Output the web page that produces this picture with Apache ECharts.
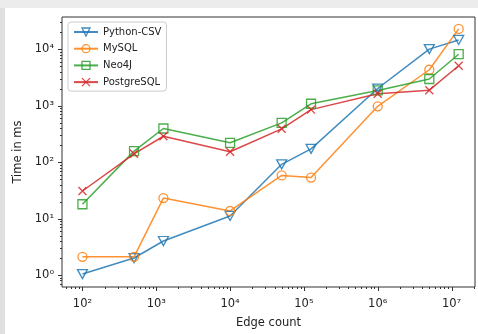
<!DOCTYPE html>
<html><head><meta charset="utf-8">
<script src="https://cdn.jsdelivr.net/npm/echarts@6/dist/echarts.min.js"></script>
<style>
html,body{margin:0;padding:0;background:#e0e0e0;}
#wrap{position:relative;width:478px;height:334px;background:#e0e0e0;overflow:hidden;}
#top{position:absolute;left:0;top:0;width:478px;height:8px;background:#ececec;}
#paper{position:absolute;left:5px;top:8px;width:473px;height:326px;background:#fff;}
#chart{position:absolute;left:0;top:0;width:478px;height:334px;}
</style></head><body>
<div id="wrap"><div id="top"></div><div id="paper"></div><div id="chart"></div></div>
<script>
const edgeCounts = [100, 500, 1250, 10000, 50000, 125000, 1000000, 5000000, 12500000];
const pythonCsv  = [1.04, 2.0, 4.0, 11.1, 91, 171, 2000, 9960, 14500];
const mySql      = [2.1, 2.1, 23, 13.6, 58, 53, 968, 4300, 22700];
const neo4j      = [17.9, 156, 392, 219, 493, 1075, 1850, 2950, 8100];
const postgreSql = [30.7, 140, 286, 152, 387, 846, 1620, 1870, 5050];
const seriesNames = ['Python-CSV', 'MySQL', 'Neo4J', 'PostgreSQL'];
const xTickExps = [2, 3, 4, 5, 6, 7];
const yTickExps = [0, 1, 2, 3, 4];

const xMin = Math.pow(10, 1.723), xMax = Math.pow(10, 7.318);
const yMin = Math.pow(10, -0.212), yMax = Math.pow(10, 4.567);
const SUP = '⁰¹²³⁴⁵⁶⁷⁸⁹';
function supFmt(v) {
  const e = Math.log10(v), r = Math.round(e);
  if (Math.abs(e - r) > 1e-3) return '';
  return '10' + String(r).split('').map(d => d === '-' ? '⁻' : SUP[+d]).join('');
}
function pairs(ys) { return edgeCounts.map((x, i) => [x, ys[i]]); }

const colors = ['#1f77b4', '#ff7f0e', '#2ca02c', '#d62728'];
const symbols = ['path://M0,0L10,0L5,8.66Z', 'circle', 'rect', 'path://M0,0L10,10M0,10L10,0'];
const sizes = [[10, 9], 9, 9, 8];
const values = [pythonCsv, mySql, neo4j, postgreSql];
const font = 'DejaVu Sans';
const hollow = 'rgba(255,255,255,0)';

const chart = echarts.init(document.getElementById('chart'), null, {renderer: 'canvas'});
const option = {
  animation: false,
  backgroundColor: 'transparent',
  grid: {left: 62, top: 17, right: 2, bottom: 46, show: true, borderColor: '#333', borderWidth: 1, backgroundColor: 'transparent'},
  legend: {
    orient: 'vertical', left: 68, top: 22, padding: [5, 5, 4, 5], itemGap: 6.7,
    itemWidth: 24, itemHeight: 10,
    textStyle: {fontFamily: font, fontSize: 10, color: '#222'},
    borderColor: '#cccccc', borderWidth: 1, borderRadius: 3,
    backgroundColor: 'rgba(255,255,255,0.8)',
    data: seriesNames.map((n, i) => ({name: n, itemStyle: {color: hollow, borderColor: colors[i], borderWidth: 1.3}}))
  },
  xAxis: {
    type: 'log', logBase: 10, min: xMin, max: xMax, splitNumber: 6,
    name: 'Edge count', nameLocation: 'middle', nameGap: 30,
    nameTextStyle: {fontFamily: font, fontSize: 11.5, color: '#222'},
    axisLine: {show: false}, axisTick: {show: false}, splitLine: {show: false},
    axisLabel: {fontFamily: font, fontSize: 11.5, color: '#222', margin: 11, formatter: supFmt}
  },
  yAxis: {
    type: 'log', logBase: 10, min: yMin, max: yMax, splitNumber: 5,
    name: 'Time in ms', nameLocation: 'middle', nameGap: 38,
    nameTextStyle: {fontFamily: font, fontSize: 11.5, color: '#222'},
    axisLine: {show: false}, axisTick: {show: false}, splitLine: {show: false},
    axisLabel: {fontFamily: font, fontSize: 11.5, color: '#222', margin: 8, formatter: supFmt}
  },
  series: seriesNames.map((n, i) => ({
    name: n, type: 'line', data: pairs(values[i]),
    symbol: symbols[i], symbolSize: sizes[i], showAllSymbol: true,
    lineStyle: {color: colors[i], width: 1.5, opacity: 0.85},
    itemStyle: {color: hollow, borderColor: colors[i], borderWidth: 1.3, opacity: 0.85},
    emphasis: {disabled: true}
  }))
};
chart.setOption(option);

// tick marks (major + log minor) placed through the axis scales
const gfx = [];
const bottomY = Math.round(chart.convertToPixel({yAxisIndex: 0}, yMin));
const leftX = Math.round(chart.convertToPixel({xAxisIndex: 0}, xMin));
for (let e = 1; e <= 7; e++) for (let k = 1; k <= 9; k++) {
  const v = k * Math.pow(10, e);
  if (v <= xMin || v >= xMax) continue;
  const px = Math.round(chart.convertToPixel({xAxisIndex: 0}, v)) + 0.5;
  const len = k === 1 ? 4 : 2;
  gfx.push({type: 'line', silent: true, shape: {x1: px, y1: bottomY, x2: px, y2: bottomY + len}, style: {stroke: '#333', lineWidth: 1}});
}
for (let e = -1; e <= 4; e++) for (let k = 1; k <= 9; k++) {
  const v = k * Math.pow(10, e);
  if (v <= yMin || v >= yMax) continue;
  const py = Math.round(chart.convertToPixel({yAxisIndex: 0}, v)) + 0.5;
  const len = k === 1 ? 4 : 2;
  gfx.push({type: 'line', silent: true, shape: {x1: leftX, y1: py, x2: leftX - len, y2: py}, style: {stroke: '#333', lineWidth: 1}});
}
chart.setOption({graphic: gfx});
</script>
</body></html>
